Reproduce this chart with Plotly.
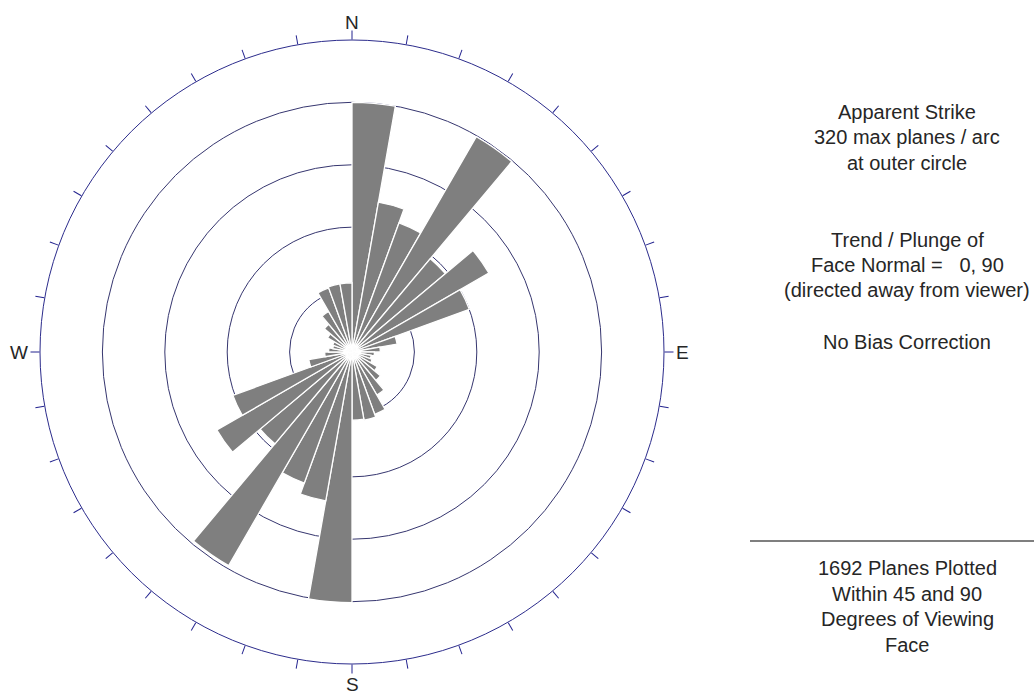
import plotly.graph_objects as go

# Apparent strike rose: 10-degree bins, planes per arc
bin_start = list(range(0, 360, 10))
bin_width = 10
planes_per_bin = [
    256, 156, 141, 255, 125, 162, 128, 47, 29,
    23, 20, 22, 30, 38, 51, 68, 71, 70,
    257, 155, 143, 253, 123, 160, 130, 45, 28,
    24, 20, 21, 29, 37, 48, 70, 71, 71,
]
max_planes = 320
ring_values = [64, 128, 192, 256]
compass_ticks = list(range(0, 360, 10))
compass_labels = [("N", 352, 22), ("E", 682, 352), ("S", 352, 684), ("W", 19, 352)]

info_lines = [
    ("Apparent Strike", 112),
    ("320 max planes / arc", 137),
    ("at outer circle", 163),
    ("Trend / Plunge of", 240),
    ("Face Normal = \u00a0 0, 90", 265),
    ("(directed away from viewer)", 290),
    ("No Bias Correction", 342),
    ("1692 Planes Plotted", 568),
    ("Within 45 and 90", 594),
    ("Degrees of Viewing", 619),
    ("Face", 645),
]

W, H = 1034, 694
FONT = "Liberation Sans, Arial, sans-serif"
TEXT_COLOR = "#262626"

fig = go.Figure()
fig.add_trace(go.Barpolar(
    theta=[b + bin_width / 2 for b in bin_start],
    r=planes_per_bin,
    width=[bin_width] * len(bin_start),
    marker=dict(color="#7f7f7f", line=dict(color="white", width=1.3)),
    hoverinfo="theta+r",
    showlegend=False,
))

fig.update_layout(
    width=W, height=H,
    margin=dict(l=0, r=0, t=0, b=0),
    paper_bgcolor="white",
    font=dict(family=FONT, size=20, color=TEXT_COLOR),
    polar=dict(
        domain=dict(x=[40 / W, 664 / W], y=[(H - 664) / H, (H - 40) / H]),
        bgcolor="white",
        bargap=0,
        radialaxis=dict(
            range=[0, max_planes],
            tickvals=ring_values,
            showticklabels=False,
            ticks="",
            showline=False,
            gridcolor="#36366f",
            gridwidth=1,
        ),
        angularaxis=dict(
            rotation=90,
            direction="clockwise",
            tickmode="array",
            tickvals=compass_ticks,
            ticktext=[""] * len(compass_ticks),
            ticks="outside",
            ticklen=9,
            tickwidth=1.3,
            tickcolor="#23238f",
            showline=True,
            linecolor="#2c2c8c",
            linewidth=1,
            showgrid=False,
        ),
    ),
)

# compass letters beside the outer ticks
for letter, xpix, ypix in compass_labels:
    fig.add_annotation(
        text=letter, xref="paper", yref="paper",
        x=xpix / W, y=1 - ypix / H,
        xanchor="center", yanchor="middle",
        showarrow=False,
        font=dict(family=FONT, size=19, color=TEXT_COLOR),
    )

for text, ypix in info_lines:
    fig.add_annotation(
        text=text, xref="paper", yref="paper",
        x=907 / W, y=1 - ypix / H,
        xanchor="center", yanchor="middle",
        showarrow=False,
        font=dict(family=FONT, size=20, color=TEXT_COLOR),
    )

fig.add_shape(
    type="line", xref="paper", yref="paper",
    x0=750 / W, x1=1, y0=1 - 541 / H, y1=1 - 541 / H,
    line=dict(color="#555555", width=1.5),
)

fig.write_html("out.html")
